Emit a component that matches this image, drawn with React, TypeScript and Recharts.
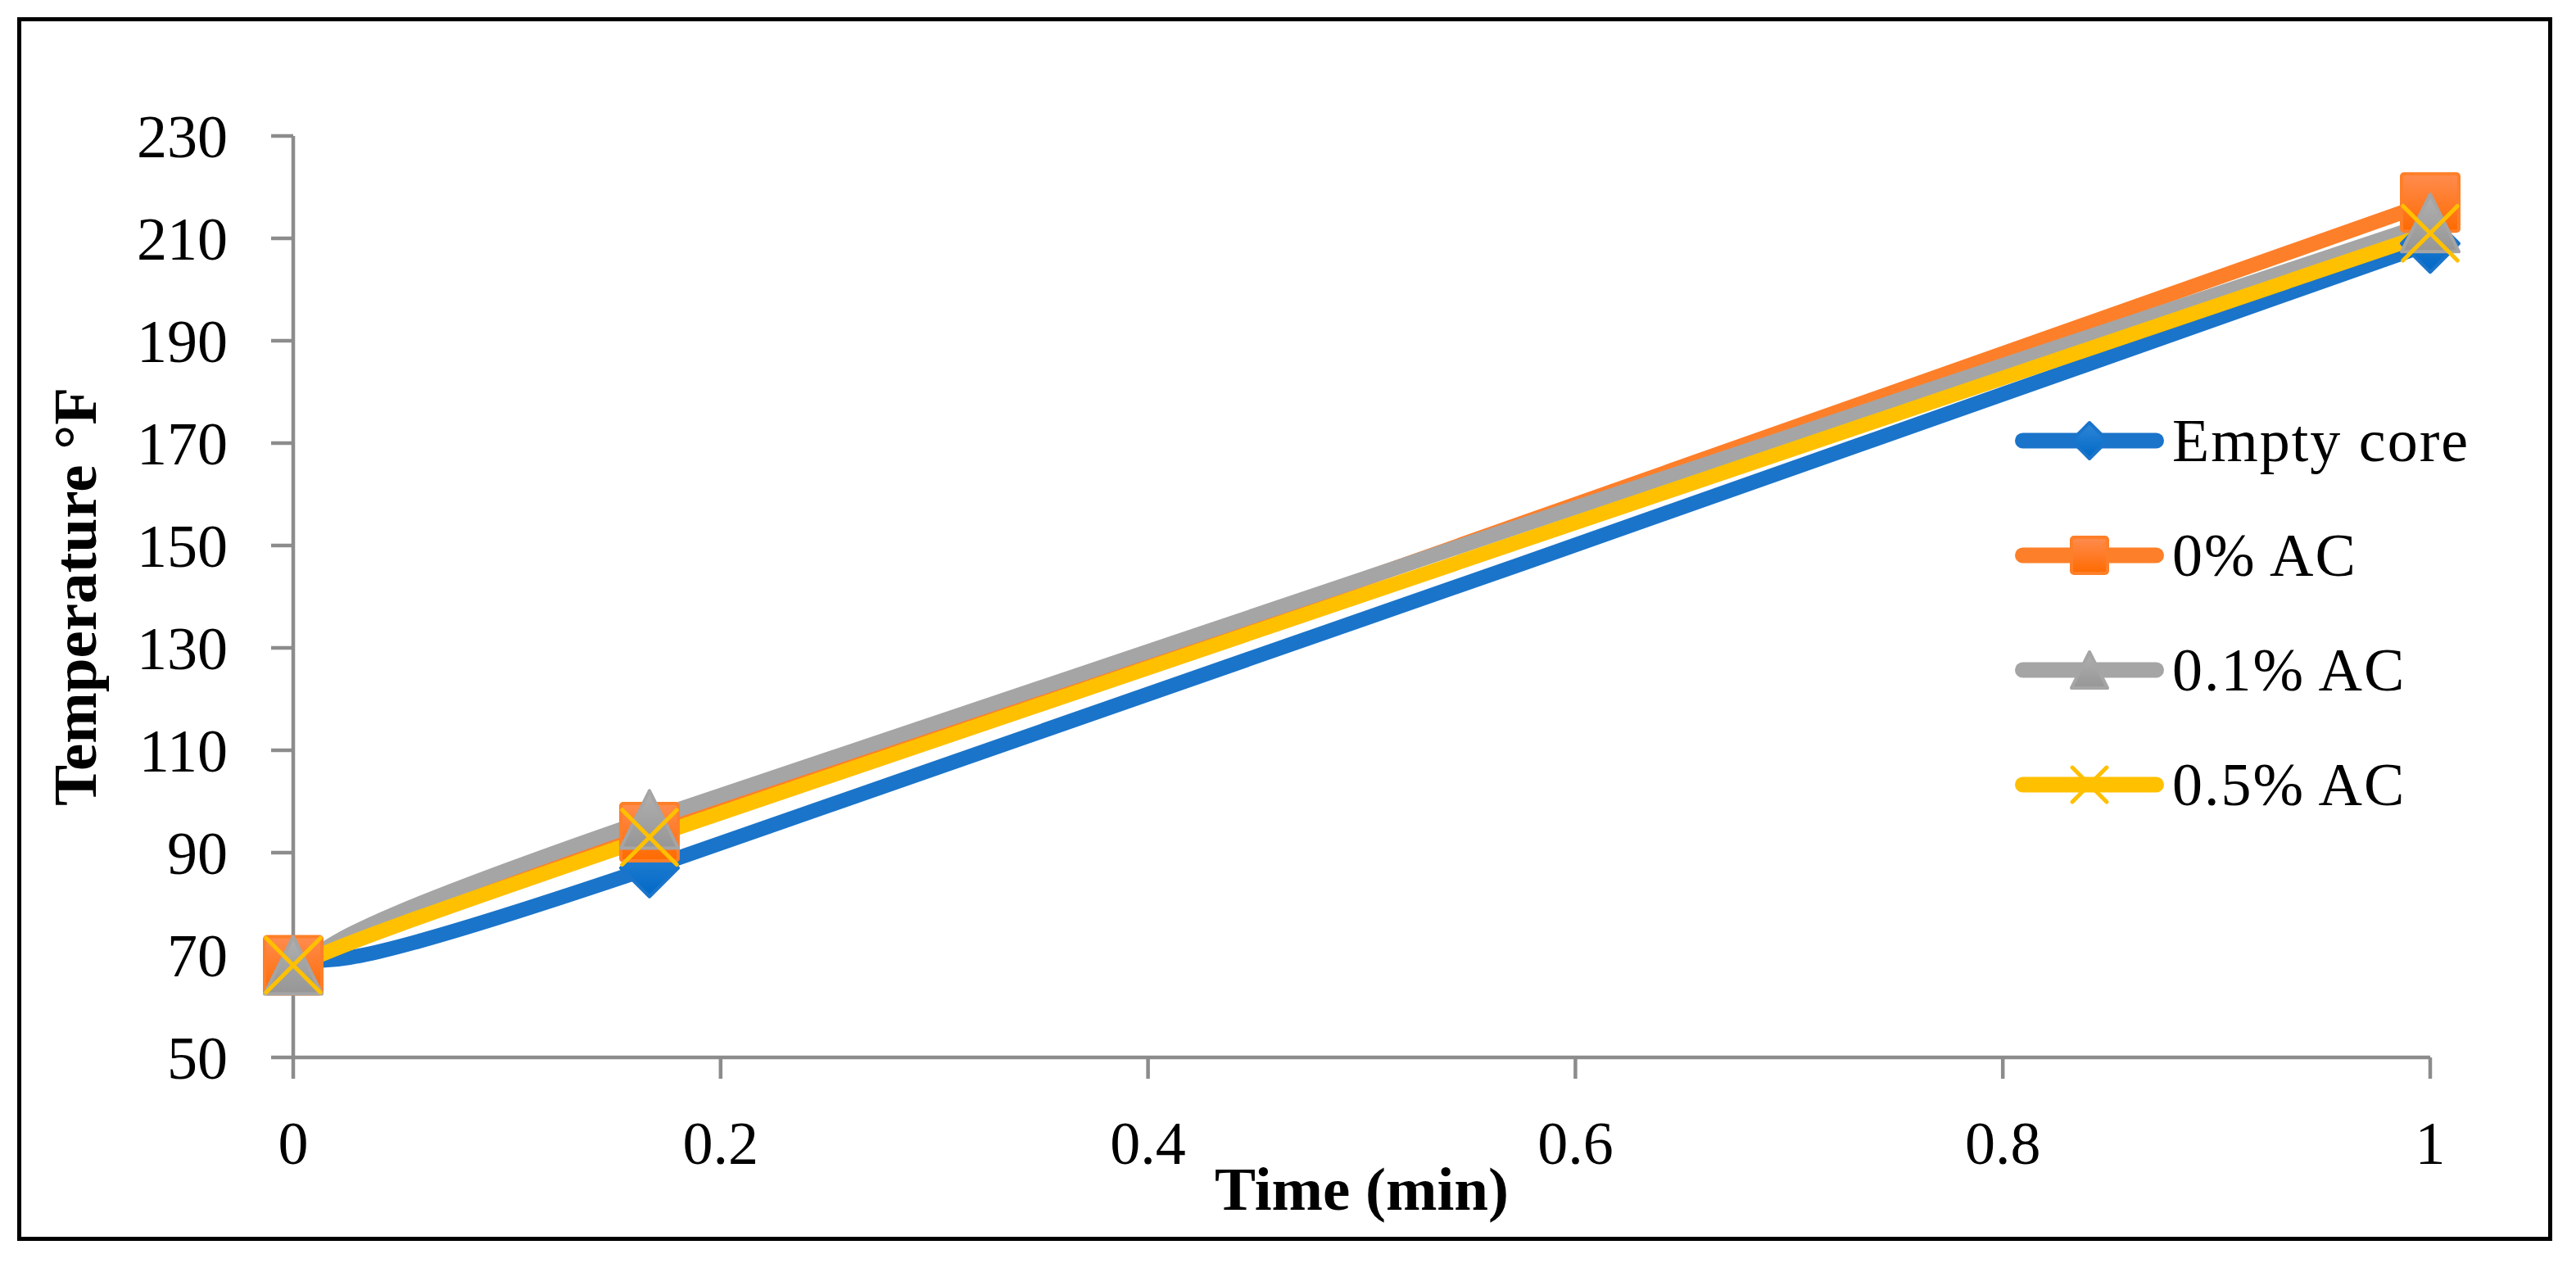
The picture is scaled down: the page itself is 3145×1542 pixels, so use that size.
import React from "react";
import { LineChart, Line, XAxis, YAxis, Legend, Label } from "recharts";

// Time in minutes (0, 10 s, 1 min)
const times = [0, 0.1667, 1];
const emptyCore = [68, 87, 209];
const ac0 = [68, 94, 217];
const ac01 = [68, 96.5, 213];
const ac05 = [68, 93, 211];

const xTicks = [0, 0.2, 0.4, 0.6, 0.8, 1];
const yTicks = [50, 70, 90, 110, 130, 150, 170, 190, 210, 230];

const data = times.map((t, i) => ({
  t,
  empty: emptyCore[i],
  ac0: ac0[i],
  ac01: ac01[i],
  ac05: ac05[i],
}));

type Shape = "diamond" | "square" | "triangle" | "x";

const series: { key: string; name: string; stroke: string; fill: string; shape: Shape }[] = [
  { key: "empty", name: "Empty core", stroke: "#1a74ca", fill: "url(#gBlue)", shape: "diamond" },
  { key: "ac0", name: "0% AC", stroke: "#fe7f29", fill: "url(#gOrange)", shape: "square" },
  { key: "ac01", name: "0.1% AC", stroke: "#a5a5a5", fill: "url(#gGray)", shape: "triangle" },
  { key: "ac05", name: "0.5% AC", stroke: "#ffc000", fill: "none", shape: "x" },
];

const FONT = "'Liberation Serif', 'Times New Roman', serif";
const AXIS = "#8c8c8c";

// Excel-style smoothed line (Catmull-Rom through the points, ends repeated)
const excelSmooth = (context: any) => {
  let pts: number[][] = [];
  return {
    areaStart() {},
    areaEnd() {},
    lineStart() {
      pts = [];
    },
    point(x: number, y: number) {
      pts.push([+x, +y]);
    },
    lineEnd() {
      const n = pts.length;
      if (!n) return;
      context.moveTo(pts[0][0], pts[0][1]);
      for (let i = 0; i < n - 1; i++) {
        const p0 = pts[Math.max(i - 1, 0)];
        const p1 = pts[i];
        const p2 = pts[i + 1];
        const p3 = pts[Math.min(i + 2, n - 1)];
        context.bezierCurveTo(
          p1[0] + (p2[0] - p0[0]) / 6,
          p1[1] + (p2[1] - p0[1]) / 6,
          p2[0] - (p3[0] - p1[0]) / 6,
          p2[1] - (p3[1] - p1[1]) / 6,
          p2[0],
          p2[1]
        );
      }
    },
  };
};

function Marker({ shape, cx, cy, h, stroke, fill }: { shape: Shape; cx: number; cy: number; h: number; stroke: string; fill: string }) {
  if (shape === "diamond") {
    return (
      <polygon
        points={`${cx},${cy - h} ${cx + h},${cy} ${cx},${cy + h} ${cx - h},${cy}`}
        fill={fill}
        stroke={stroke}
        strokeWidth={4}
        strokeLinejoin="round"
      />
    );
  }
  if (shape === "square") {
    return (
      <rect x={cx - h} y={cy - h} width={h * 2} height={h * 2} rx={3} fill={fill} stroke={stroke} strokeWidth={4} />
    );
  }
  if (shape === "triangle") {
    return (
      <polygon
        points={`${cx},${cy - h} ${cx + h},${cy + h} ${cx - h},${cy + h}`}
        fill={fill}
        stroke={stroke}
        strokeWidth={4}
        strokeLinejoin="round"
      />
    );
  }
  const d = h * 0.95;
  return (
    <g stroke={stroke} strokeWidth={5} strokeLinecap="round">
      <line x1={cx - d} y1={cy - d} x2={cx + d} y2={cy + d} />
      <line x1={cx - d} y1={cy + d} x2={cx + d} y2={cy - d} />
    </g>
  );
}

const renderLegend = () => (
  <div>
    {series.map((s) => (
      <div key={s.key} style={{ display: "flex", alignItems: "center", height: 140 }}>
        <svg width={200} height={80} style={{ display: "block" }}>
          <line x1={19.5} y1={40} x2={182.5} y2={40} stroke={s.stroke} strokeWidth={19} strokeLinecap="round" />
          <Marker shape={s.shape} cx={101} cy={40} h={22} stroke={s.stroke} fill={s.fill} />
        </svg>
        <span style={{ fontFamily: FONT, fontSize: 74, letterSpacing: 2, color: "#000", marginLeft: 2, whiteSpace: "nowrap" }}>
          {s.name}
        </span>
      </div>
    ))}
  </div>
);

const YTitle = (props: any) => {
  const vb = props.viewBox || {};
  const cx = 117;
  const cy = (vb.y ?? 166) + (vb.height ?? 1125) / 2;
  return (
    <text
      x={cx}
      y={cy}
      transform={`rotate(-90 ${cx} ${cy})`}
      textAnchor="middle"
      style={{ fontFamily: FONT, fontSize: 75, fontWeight: 700, fill: "#000" }}
    >
      Temperature °F
    </text>
  );
};

const XTitle = (props: any) => {
  const vb = props.viewBox || {};
  const cx = (vb.x ?? 358) + (vb.width ?? 2609) / 2;
  const y = (vb.y ?? 1291) + 186;
  return (
    <text x={cx} y={y} textAnchor="middle" style={{ fontFamily: FONT, fontSize: 75, fontWeight: 700, fill: "#000" }}>
      Time (min)
    </text>
  );
};

export default function App() {
  return (
    <div style={{ position: "absolute", left: 0, top: 0, width: 3145, height: 1542, background: "#fff" }}>
      <LineChart width={3145} height={1542} data={data} margin={{ top: 166, right: 178, bottom: 0, left: 0 }}>
        <defs>
          <linearGradient id="gBlue" x1="0" y1="0" x2="0" y2="1">
            <stop offset="0%" stopColor="#2f86d6" />
            <stop offset="100%" stopColor="#0068c6" />
          </linearGradient>
          <linearGradient id="gOrange" x1="0" y1="0" x2="0" y2="1">
            <stop offset="0%" stopColor="#ff8c4f" />
            <stop offset="100%" stopColor="#ff6a00" />
          </linearGradient>
          <linearGradient id="gGray" x1="0" y1="0" x2="0" y2="1">
            <stop offset="0%" stopColor="#b0b0b0" />
            <stop offset="100%" stopColor="#969696" />
          </linearGradient>
        </defs>
        <XAxis
          type="number"
          dataKey="t"
          domain={[0, 1]}
          ticks={xTicks}
          interval={0}
          height={251}
          tickSize={26}
          tickMargin={51}
          axisLine={{ stroke: AXIS, strokeWidth: 4.5 }}
          tickLine={{ stroke: AXIS, strokeWidth: 4.5 }}
          tick={{ fontFamily: FONT, fontSize: 74, fill: "#000" }}
        >
          <Label content={XTitle} />
        </XAxis>
        <YAxis
          type="number"
          domain={[50, 230]}
          ticks={yTicks}
          interval={0}
          width={358}
          tickSize={27}
          tickMargin={53}
          axisLine={{ stroke: AXIS, strokeWidth: 4.5 }}
          tickLine={{ stroke: AXIS, strokeWidth: 4.5 }}
          tick={{ fontFamily: FONT, fontSize: 74, fill: "#000" }}
        >
          <Label content={YTitle} />
        </YAxis>
        <Legend
          layout="horizontal"
          verticalAlign="middle"
          align="center"
          content={renderLegend}
          wrapperStyle={{ left: 2450, top: 468, width: "auto", right: "auto", bottom: "auto" }}
        />
        {series.map((s) => (
          <Line
            key={s.key}
            type={excelSmooth as any}
            dataKey={s.key}
            name={s.name}
            stroke={s.stroke}
            strokeWidth={18}
            strokeLinecap="round"
            strokeLinejoin="round"
            isAnimationActive={false}
            activeDot={false}
            dot={(p: any) => (
              <g key={`${s.key}-${p.index}`}>
                <Marker shape={s.shape} cx={p.cx} cy={p.cy} h={35} stroke={s.stroke} fill={s.fill} />
              </g>
            )}
          />
        ))}
      </LineChart>
      <div
        style={{
          position: "absolute",
          left: 21,
          top: 21,
          width: 3095,
          height: 1494,
          border: "5px solid #000",
          boxSizing: "border-box",
          pointerEvents: "none",
        }}
      />
    </div>
  );
}
